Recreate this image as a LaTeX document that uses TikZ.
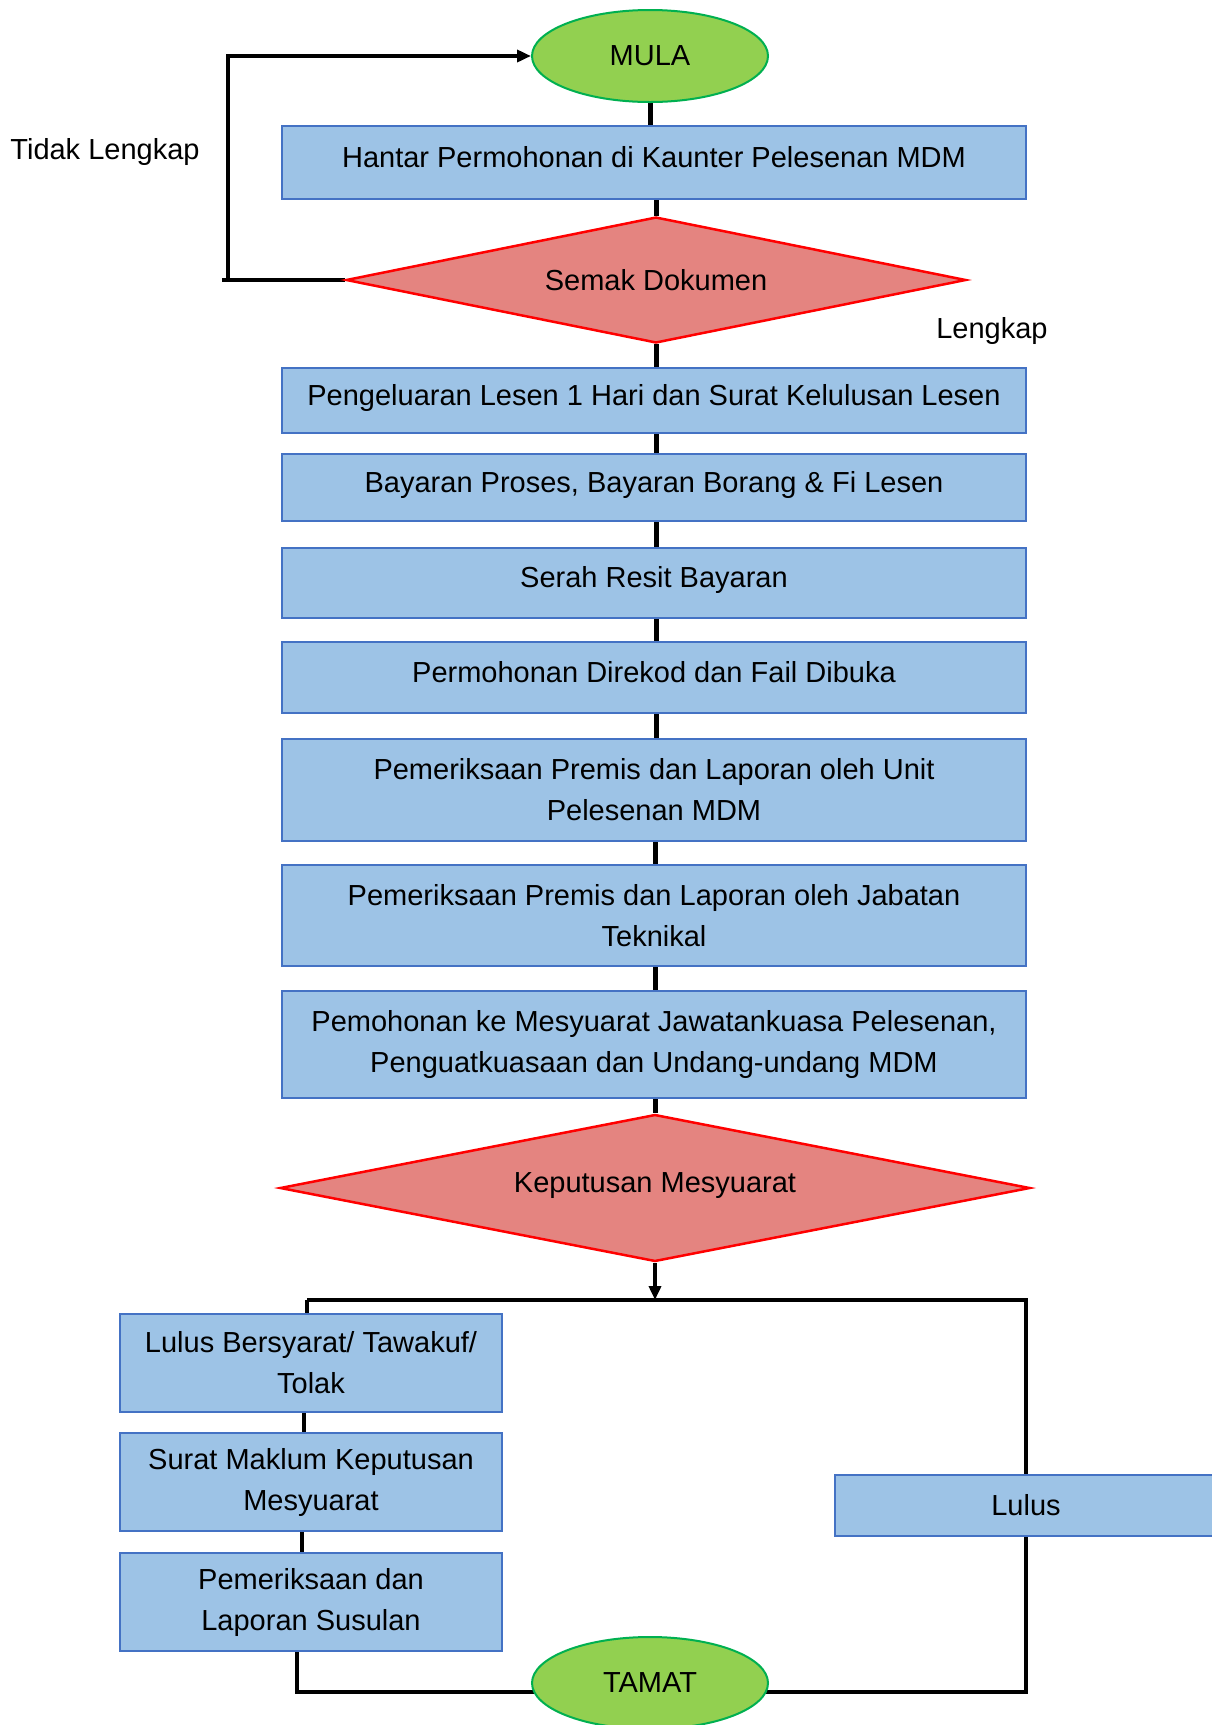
\documentclass[tikz,border=0pt]{standalone}
\usepackage{fontspec}
\setmainfont{Liberation Sans}
\usetikzlibrary{shapes.geometric,arrows.meta,backgrounds}
\definecolor{boxfill}{HTML}{9DC3E6}
\definecolor{boxline}{HTML}{4472C4}
\definecolor{dfill}{HTML}{E48480}
\definecolor{dline}{HTML}{FF0000}
\definecolor{efill}{HTML}{92D050}
\definecolor{eline}{HTML}{00B050}
\begin{document}
\begin{tikzpicture}[x=1pt,y=-1pt,
  base/.style={font=\fontsize{29}{41}\selectfont, align=center, inner sep=0pt, text=black},
  lift/.style={text height=21pt, text depth=12pt},
  procbox/.style={base, rectangle, draw=boxline, line width=1.5pt, fill=boxfill},
  mainbox/.style={procbox, minimum width=744pt},
  sidebox/.style={procbox, minimum width=382pt, minimum height=98pt},
  terminal/.style={base, ellipse, draw=eline, line width=2pt, fill=efill, minimum width=236pt, minimum height=92pt},
  decision/.style={base, diamond, draw=dline, line width=2.5pt, fill=dfill},
  conn/.style={draw=black, line width=5pt},
  thinconn/.style={draw=black, line width=3.5pt},
  arr/.style={-{Triangle[length=14pt,width=12pt]}},
  lbl/.style={base}
]
\useasboundingbox (0,0) rectangle (1212,1725);

% nodes
\node[terminal] (mula) at (650,56) {MULA};
\node[mainbox, lift, minimum height=73pt] (hantar) at (654,162.5) {Hantar Permohonan di Kaunter Pelesenan MDM};
\node[decision, minimum width=620pt, minimum height=126pt, shape aspect=4.9] (semak) at (656,280) {Semak Dokumen};
\node[mainbox, lift, minimum height=65pt] (keluar) at (654,400.5) {Pengeluaran Lesen 1 Hari dan Surat Kelulusan Lesen};
\node[mainbox, lift, minimum height=67pt] (bayar) at (654,487.5) {Bayaran Proses, Bayaran Borang \& Fi Lesen};
\node[mainbox, lift, minimum height=70pt] (serah) at (654,583) {Serah Resit Bayaran};
\node[mainbox, lift, minimum height=71pt] (direkod) at (654,677.5) {Permohonan Direkod dan Fail Dibuka};
\node[mainbox, minimum height=102pt] (unit) at (654,790) {Pemeriksaan Premis dan Laporan oleh Unit\\Pelesenan MDM};
\node[mainbox, minimum height=101pt] (teknikal) at (654,915.5) {Pemeriksaan Premis dan Laporan oleh Jabatan\\Teknikal};
\node[mainbox, minimum height=107pt] (mesy) at (654,1044.5) {Pemohonan ke Mesyuarat Jawatankuasa Pelesenan,\\Penguatkuasaan dan Undang-undang MDM};
\node[decision, lift, minimum width=750pt, minimum height=147pt, shape aspect=5.1] (kep) at (655,1188) {Keputusan Mesyuarat};
\node[sidebox] (lb) at (311,1363) {Lulus Bersyarat/ Tawakuf/\\Tolak};
\node[sidebox] (surat) at (311,1482) {Surat Maklum Keputusan\\Mesyuarat};
\node[sidebox] (susulan) at (311,1602) {Pemeriksaan dan\\Laporan Susulan};
\node[procbox, minimum width=382pt, minimum height=61pt] (lulus) at (1026,1505.5) {Lulus};
\node[terminal] (tamat) at (650,1683) {TAMAT};

\node[lbl] (tidak) at (105,152) {Tidak Lengkap};
\node[lbl] (lengkap) at (992,331) {Lengkap};

\coordinate (lx) at (228,0);
\coordinate (lx2) at (222,0);
\coordinate (split) at (656,1300);
\coordinate (cl) at (307,1300);
\coordinate (cr) at (1026,1300);
\coordinate (bl) at (297,1692);
\coordinate (br) at (1026,1692);

\begin{scope}[on background layer]
  \fill[white] (0,0) rectangle (1212,1725);
  \draw[conn] (mula.south) -- (mula.south |- hantar.north);
  \draw[conn] (hantar.south -| semak.north) -- (semak.north);
  \draw[conn] (semak.south) -- (semak.south |- keluar.north);
  \draw[conn] (keluar.south -| semak.south) -- (bayar.north -| semak.south);
  \draw[conn] (bayar.south -| semak.south) -- (serah.north -| semak.south);
  \draw[conn] (serah.south -| semak.south) -- (direkod.north -| semak.south);
  \draw[conn] (direkod.south -| semak.south) -- (unit.north -| semak.south);
  \draw[conn] (unit.south -| kep.north) -- (teknikal.north -| kep.north);
  \draw[conn] (teknikal.south -| kep.north) -- (mesy.north -| kep.north);
  \draw[conn] (mesy.south -| kep.north) -- (kep.north);
  \draw[thinconn] (semak.west) -- (semak.west -| lx2);
  \draw[thinconn] ([yshift=1.75pt]semak.west -| lx) -- ([yshift=-1.75pt]mula.west -| lx);
  \draw[thinconn] (cl) -- (cl |- lb.north);
  \draw[thinconn] (lb.south -| 304,0) -- (surat.north -| 304,0);
  \draw[thinconn] (surat.south -| 302,0) -- (susulan.north -| 302,0);
  \draw[thinconn] (susulan.south -| bl) -- (bl) -- (bl -| tamat.center);
  \draw[thinconn] (cl) -- (cr) -- (lulus.north);
  \draw[thinconn] (lulus.south) -- (br) -- (br -| tamat.center);
\end{scope}
\draw[thinconn, arr] ([xshift=-1.75pt]mula.west -| lx) -- (mula.west);
\draw[conn, line width=4pt, arr] (kep.south) -- (kep.south |- split);
\end{tikzpicture}
\end{document}
